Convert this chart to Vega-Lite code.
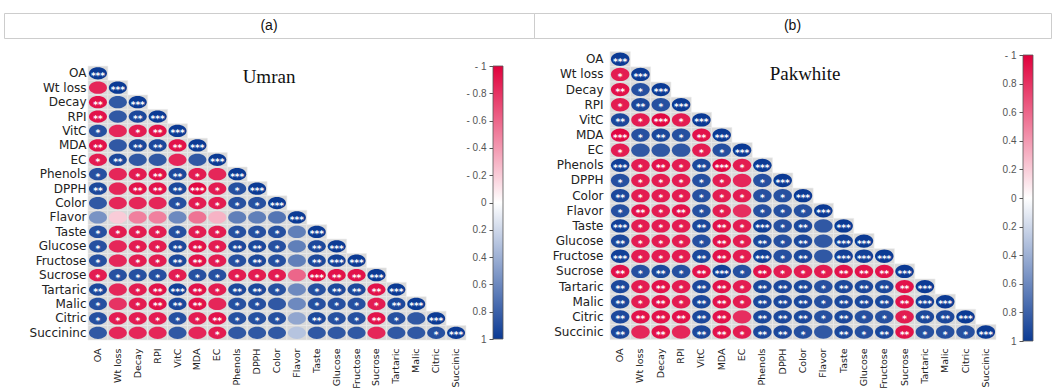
{
 "$schema": "https://vega.github.io/schema/vega-lite/v6.json",
 "padding": {"left": 3, "top": 12, "right": 0, "bottom": 0},
 "background": "white",
 "config": {"view": {"stroke": null}},
 "datasets": {
  "umran": [
   {"row":"OA","col":"OA","r":1,"sig":"***"},
   {"row":"Wt loss","col":"OA","r":-0.85,"sig":""},{"row":"Wt loss","col":"Wt loss","r":1,"sig":"***"},
   {"row":"Decay","col":"OA","r":-0.93,"sig":"**"},{"row":"Decay","col":"Wt loss","r":0.85,"sig":""},{"row":"Decay","col":"Decay","r":1,"sig":"***"},
   {"row":"RPI","col":"OA","r":-0.93,"sig":"**"},{"row":"RPI","col":"Wt loss","r":0.85,"sig":""},{"row":"RPI","col":"Decay","r":0.93,"sig":"**"},{"row":"RPI","col":"RPI","r":1,"sig":"***"},
   {"row":"VitC","col":"OA","r":0.89,"sig":"*"},{"row":"VitC","col":"Wt loss","r":-0.85,"sig":""},{"row":"VitC","col":"Decay","r":-0.89,"sig":"*"},{"row":"VitC","col":"RPI","r":-0.93,"sig":"**"},{"row":"VitC","col":"VitC","r":1,"sig":"***"},
   {"row":"MDA","col":"OA","r":-0.93,"sig":"**"},{"row":"MDA","col":"Wt loss","r":0.85,"sig":""},{"row":"MDA","col":"Decay","r":0.93,"sig":"**"},{"row":"MDA","col":"RPI","r":0.93,"sig":"**"},{"row":"MDA","col":"VitC","r":-0.93,"sig":"**"},{"row":"MDA","col":"MDA","r":1,"sig":"***"},
   {"row":"EC","col":"OA","r":-0.89,"sig":"*"},{"row":"EC","col":"Wt loss","r":0.93,"sig":"**"},{"row":"EC","col":"Decay","r":0.85,"sig":""},{"row":"EC","col":"RPI","r":0.85,"sig":""},{"row":"EC","col":"VitC","r":-0.85,"sig":""},{"row":"EC","col":"MDA","r":0.85,"sig":""},{"row":"EC","col":"EC","r":1,"sig":"***"},
   {"row":"Phenols","col":"OA","r":0.89,"sig":"*"},{"row":"Phenols","col":"Wt loss","r":-0.85,"sig":""},{"row":"Phenols","col":"Decay","r":-0.89,"sig":"*"},{"row":"Phenols","col":"RPI","r":-0.93,"sig":"**"},{"row":"Phenols","col":"VitC","r":0.93,"sig":"**"},{"row":"Phenols","col":"MDA","r":-0.89,"sig":"*"},{"row":"Phenols","col":"EC","r":-0.85,"sig":""},{"row":"Phenols","col":"Phenols","r":1,"sig":"***"},
   {"row":"DPPH","col":"OA","r":0.93,"sig":"**"},{"row":"DPPH","col":"Wt loss","r":-0.85,"sig":""},{"row":"DPPH","col":"Decay","r":-0.93,"sig":"**"},{"row":"DPPH","col":"RPI","r":-0.93,"sig":"**"},{"row":"DPPH","col":"VitC","r":0.93,"sig":"**"},{"row":"DPPH","col":"MDA","r":-0.97,"sig":"***"},{"row":"DPPH","col":"EC","r":-0.89,"sig":"*"},{"row":"DPPH","col":"Phenols","r":0.89,"sig":"*"},{"row":"DPPH","col":"DPPH","r":1,"sig":"***"},
   {"row":"Color","col":"OA","r":0.85,"sig":""},{"row":"Color","col":"Wt loss","r":-0.85,"sig":""},{"row":"Color","col":"Decay","r":-0.85,"sig":""},{"row":"Color","col":"RPI","r":-0.85,"sig":""},{"row":"Color","col":"VitC","r":0.89,"sig":"*"},{"row":"Color","col":"MDA","r":-0.89,"sig":"*"},{"row":"Color","col":"EC","r":-0.89,"sig":"*"},{"row":"Color","col":"Phenols","r":0.89,"sig":"*"},{"row":"Color","col":"DPPH","r":0.89,"sig":"*"},{"row":"Color","col":"Color","r":1,"sig":"***"},
   {"row":"Flavor","col":"OA","r":0.55,"sig":""},{"row":"Flavor","col":"Wt loss","r":-0.2,"sig":""},{"row":"Flavor","col":"Decay","r":-0.5,"sig":""},{"row":"Flavor","col":"RPI","r":-0.5,"sig":""},{"row":"Flavor","col":"VitC","r":0.6,"sig":""},{"row":"Flavor","col":"MDA","r":-0.55,"sig":""},{"row":"Flavor","col":"EC","r":-0.3,"sig":""},{"row":"Flavor","col":"Phenols","r":0.65,"sig":""},{"row":"Flavor","col":"DPPH","r":0.65,"sig":""},{"row":"Flavor","col":"Color","r":0.7,"sig":""},{"row":"Flavor","col":"Flavor","r":1,"sig":"***"},
   {"row":"Taste","col":"OA","r":0.89,"sig":"*"},{"row":"Taste","col":"Wt loss","r":-0.89,"sig":"*"},{"row":"Taste","col":"Decay","r":-0.89,"sig":"*"},{"row":"Taste","col":"RPI","r":-0.89,"sig":"*"},{"row":"Taste","col":"VitC","r":0.89,"sig":"*"},{"row":"Taste","col":"MDA","r":-0.89,"sig":"*"},{"row":"Taste","col":"EC","r":-0.89,"sig":"*"},{"row":"Taste","col":"Phenols","r":0.89,"sig":"*"},{"row":"Taste","col":"DPPH","r":0.89,"sig":"*"},{"row":"Taste","col":"Color","r":0.89,"sig":"*"},{"row":"Taste","col":"Flavor","r":0.65,"sig":""},{"row":"Taste","col":"Taste","r":1,"sig":"***"},
   {"row":"Glucose","col":"OA","r":0.89,"sig":"*"},{"row":"Glucose","col":"Wt loss","r":-0.85,"sig":""},{"row":"Glucose","col":"Decay","r":-0.89,"sig":"*"},{"row":"Glucose","col":"RPI","r":-0.89,"sig":"*"},{"row":"Glucose","col":"VitC","r":0.93,"sig":"**"},{"row":"Glucose","col":"MDA","r":-0.93,"sig":"**"},{"row":"Glucose","col":"EC","r":-0.89,"sig":"*"},{"row":"Glucose","col":"Phenols","r":0.93,"sig":"**"},{"row":"Glucose","col":"DPPH","r":0.93,"sig":"**"},{"row":"Glucose","col":"Color","r":0.89,"sig":"*"},{"row":"Glucose","col":"Flavor","r":0.65,"sig":""},{"row":"Glucose","col":"Taste","r":0.93,"sig":"**"},{"row":"Glucose","col":"Glucose","r":1,"sig":"***"},
   {"row":"Fructose","col":"OA","r":0.89,"sig":"*"},{"row":"Fructose","col":"Wt loss","r":-0.85,"sig":""},{"row":"Fructose","col":"Decay","r":-0.89,"sig":"*"},{"row":"Fructose","col":"RPI","r":-0.89,"sig":"*"},{"row":"Fructose","col":"VitC","r":0.93,"sig":"**"},{"row":"Fructose","col":"MDA","r":-0.93,"sig":"**"},{"row":"Fructose","col":"EC","r":-0.89,"sig":"*"},{"row":"Fructose","col":"Phenols","r":0.89,"sig":"*"},{"row":"Fructose","col":"DPPH","r":0.93,"sig":"**"},{"row":"Fructose","col":"Color","r":0.89,"sig":"*"},{"row":"Fructose","col":"Flavor","r":0.65,"sig":""},{"row":"Fructose","col":"Taste","r":0.93,"sig":"**"},{"row":"Fructose","col":"Glucose","r":0.97,"sig":"***"},{"row":"Fructose","col":"Fructose","r":1,"sig":"***"},
   {"row":"Sucrose","col":"OA","r":-0.89,"sig":"*"},{"row":"Sucrose","col":"Wt loss","r":0.89,"sig":"*"},{"row":"Sucrose","col":"Decay","r":0.89,"sig":"*"},{"row":"Sucrose","col":"RPI","r":0.89,"sig":"*"},{"row":"Sucrose","col":"VitC","r":-0.89,"sig":"*"},{"row":"Sucrose","col":"MDA","r":0.89,"sig":"*"},{"row":"Sucrose","col":"EC","r":0.89,"sig":"*"},{"row":"Sucrose","col":"Phenols","r":-0.89,"sig":"*"},{"row":"Sucrose","col":"DPPH","r":-0.89,"sig":"*"},{"row":"Sucrose","col":"Color","r":-0.89,"sig":"*"},{"row":"Sucrose","col":"Flavor","r":-0.6,"sig":""},{"row":"Sucrose","col":"Taste","r":-0.97,"sig":"***"},{"row":"Sucrose","col":"Glucose","r":-0.93,"sig":"**"},{"row":"Sucrose","col":"Fructose","r":-0.93,"sig":"**"},{"row":"Sucrose","col":"Sucrose","r":1,"sig":"***"},
   {"row":"Tartaric","col":"OA","r":0.93,"sig":"**"},{"row":"Tartaric","col":"Wt loss","r":-0.85,"sig":""},{"row":"Tartaric","col":"Decay","r":-0.89,"sig":"*"},{"row":"Tartaric","col":"RPI","r":-0.93,"sig":"**"},{"row":"Tartaric","col":"VitC","r":0.97,"sig":"***"},{"row":"Tartaric","col":"MDA","r":-0.93,"sig":"**"},{"row":"Tartaric","col":"EC","r":-0.89,"sig":"*"},{"row":"Tartaric","col":"Phenols","r":0.93,"sig":"**"},{"row":"Tartaric","col":"DPPH","r":0.93,"sig":"**"},{"row":"Tartaric","col":"Color","r":0.89,"sig":"*"},{"row":"Tartaric","col":"Flavor","r":0.6,"sig":""},{"row":"Tartaric","col":"Taste","r":0.89,"sig":"*"},{"row":"Tartaric","col":"Glucose","r":0.93,"sig":"**"},{"row":"Tartaric","col":"Fructose","r":0.93,"sig":"**"},{"row":"Tartaric","col":"Sucrose","r":-0.93,"sig":"**"},{"row":"Tartaric","col":"Tartaric","r":1,"sig":"***"},
   {"row":"Malic","col":"OA","r":0.89,"sig":"*"},{"row":"Malic","col":"Wt loss","r":-0.8,"sig":""},{"row":"Malic","col":"Decay","r":-0.89,"sig":"*"},{"row":"Malic","col":"RPI","r":-0.93,"sig":"**"},{"row":"Malic","col":"VitC","r":0.93,"sig":"**"},{"row":"Malic","col":"MDA","r":-0.93,"sig":"**"},{"row":"Malic","col":"EC","r":-0.85,"sig":""},{"row":"Malic","col":"Phenols","r":0.89,"sig":"*"},{"row":"Malic","col":"DPPH","r":0.89,"sig":"*"},{"row":"Malic","col":"Color","r":0.85,"sig":""},{"row":"Malic","col":"Flavor","r":0.6,"sig":""},{"row":"Malic","col":"Taste","r":0.89,"sig":"*"},{"row":"Malic","col":"Glucose","r":0.89,"sig":"*"},{"row":"Malic","col":"Fructose","r":0.89,"sig":"*"},{"row":"Malic","col":"Sucrose","r":-0.89,"sig":"*"},{"row":"Malic","col":"Tartaric","r":0.93,"sig":"**"},{"row":"Malic","col":"Malic","r":1,"sig":"***"},
   {"row":"Citric","col":"OA","r":0.89,"sig":"*"},{"row":"Citric","col":"Wt loss","r":-0.89,"sig":"*"},{"row":"Citric","col":"Decay","r":-0.89,"sig":"*"},{"row":"Citric","col":"RPI","r":-0.89,"sig":"*"},{"row":"Citric","col":"VitC","r":0.89,"sig":"*"},{"row":"Citric","col":"MDA","r":-0.89,"sig":"*"},{"row":"Citric","col":"EC","r":-0.93,"sig":"**"},{"row":"Citric","col":"Phenols","r":0.89,"sig":"*"},{"row":"Citric","col":"DPPH","r":0.89,"sig":"*"},{"row":"Citric","col":"Color","r":0.89,"sig":"*"},{"row":"Citric","col":"Flavor","r":0.45,"sig":""},{"row":"Citric","col":"Taste","r":0.93,"sig":"**"},{"row":"Citric","col":"Glucose","r":0.89,"sig":"*"},{"row":"Citric","col":"Fructose","r":0.89,"sig":"*"},{"row":"Citric","col":"Sucrose","r":-0.93,"sig":"**"},{"row":"Citric","col":"Tartaric","r":0.89,"sig":"*"},{"row":"Citric","col":"Malic","r":0.85,"sig":""},{"row":"Citric","col":"Citric","r":1,"sig":"***"},
   {"row":"Succininc","col":"OA","r":0.85,"sig":""},{"row":"Succininc","col":"Wt loss","r":-0.85,"sig":""},{"row":"Succininc","col":"Decay","r":-0.85,"sig":""},{"row":"Succininc","col":"RPI","r":-0.85,"sig":""},{"row":"Succininc","col":"VitC","r":0.85,"sig":""},{"row":"Succininc","col":"MDA","r":-0.85,"sig":""},{"row":"Succininc","col":"EC","r":-0.89,"sig":"*"},{"row":"Succininc","col":"Phenols","r":0.85,"sig":""},{"row":"Succininc","col":"DPPH","r":0.85,"sig":""},{"row":"Succininc","col":"Color","r":0.85,"sig":""},{"row":"Succininc","col":"Flavor","r":0.3,"sig":""},{"row":"Succininc","col":"Taste","r":0.85,"sig":""},{"row":"Succininc","col":"Glucose","r":0.85,"sig":""},{"row":"Succininc","col":"Fructose","r":0.85,"sig":""},{"row":"Succininc","col":"Sucrose","r":-0.85,"sig":""},{"row":"Succininc","col":"Tartaric","r":0.85,"sig":""},{"row":"Succininc","col":"Malic","r":0.85,"sig":""},{"row":"Succininc","col":"Citric","r":0.89,"sig":"*"},{"row":"Succininc","col":"Succinic","r":1,"sig":"***"}
  ],
  "pakwhite": [
   {"row":"OA","col":"OA","r":1,"sig":"***"},
   {"row":"Wt loss","col":"OA","r":-0.89,"sig":"*"},{"row":"Wt loss","col":"Wt loss","r":1,"sig":"***"},
   {"row":"Decay","col":"OA","r":-0.93,"sig":"**"},{"row":"Decay","col":"Wt loss","r":0.89,"sig":"*"},{"row":"Decay","col":"Decay","r":1,"sig":"***"},
   {"row":"RPI","col":"OA","r":-0.89,"sig":"*"},{"row":"RPI","col":"Wt loss","r":0.93,"sig":"**"},{"row":"RPI","col":"Decay","r":0.89,"sig":"*"},{"row":"RPI","col":"RPI","r":1,"sig":"***"},
   {"row":"VitC","col":"OA","r":0.93,"sig":"**"},{"row":"VitC","col":"Wt loss","r":-0.89,"sig":"*"},{"row":"VitC","col":"Decay","r":-0.97,"sig":"***"},{"row":"VitC","col":"RPI","r":-0.89,"sig":"*"},{"row":"VitC","col":"VitC","r":1,"sig":"***"},
   {"row":"MDA","col":"OA","r":-0.97,"sig":"***"},{"row":"MDA","col":"Wt loss","r":0.89,"sig":"*"},{"row":"MDA","col":"Decay","r":0.93,"sig":"**"},{"row":"MDA","col":"RPI","r":0.89,"sig":"*"},{"row":"MDA","col":"VitC","r":-0.93,"sig":"**"},{"row":"MDA","col":"MDA","r":1,"sig":"***"},
   {"row":"EC","col":"OA","r":-0.89,"sig":"*"},{"row":"EC","col":"Wt loss","r":0.85,"sig":""},{"row":"EC","col":"Decay","r":0.85,"sig":""},{"row":"EC","col":"RPI","r":0.85,"sig":""},{"row":"EC","col":"VitC","r":-0.89,"sig":"*"},{"row":"EC","col":"MDA","r":0.89,"sig":"*"},{"row":"EC","col":"EC","r":1,"sig":"***"},
   {"row":"Phenols","col":"OA","r":0.97,"sig":"***"},{"row":"Phenols","col":"Wt loss","r":-0.89,"sig":"*"},{"row":"Phenols","col":"Decay","r":-0.93,"sig":"**"},{"row":"Phenols","col":"RPI","r":-0.89,"sig":"*"},{"row":"Phenols","col":"VitC","r":0.93,"sig":"**"},{"row":"Phenols","col":"MDA","r":-0.97,"sig":"***"},{"row":"Phenols","col":"EC","r":-0.89,"sig":"*"},{"row":"Phenols","col":"Phenols","r":1,"sig":"***"},
   {"row":"DPPH","col":"OA","r":0.89,"sig":"*"},{"row":"DPPH","col":"Wt loss","r":-0.89,"sig":"*"},{"row":"DPPH","col":"Decay","r":-0.89,"sig":"*"},{"row":"DPPH","col":"RPI","r":-0.89,"sig":"*"},{"row":"DPPH","col":"VitC","r":0.89,"sig":"*"},{"row":"DPPH","col":"MDA","r":-0.89,"sig":"*"},{"row":"DPPH","col":"EC","r":-0.85,"sig":""},{"row":"DPPH","col":"Phenols","r":0.89,"sig":"*"},{"row":"DPPH","col":"DPPH","r":1,"sig":"***"},
   {"row":"Color","col":"OA","r":0.93,"sig":"**"},{"row":"Color","col":"Wt loss","r":-0.89,"sig":"*"},{"row":"Color","col":"Decay","r":-0.89,"sig":"*"},{"row":"Color","col":"RPI","r":-0.89,"sig":"*"},{"row":"Color","col":"VitC","r":0.89,"sig":"*"},{"row":"Color","col":"MDA","r":-0.89,"sig":"*"},{"row":"Color","col":"EC","r":-0.89,"sig":"*"},{"row":"Color","col":"Phenols","r":0.89,"sig":"*"},{"row":"Color","col":"DPPH","r":0.89,"sig":"*"},{"row":"Color","col":"Color","r":1,"sig":"***"},
   {"row":"Flavor","col":"OA","r":0.89,"sig":"*"},{"row":"Flavor","col":"Wt loss","r":-0.93,"sig":"**"},{"row":"Flavor","col":"Decay","r":-0.89,"sig":"*"},{"row":"Flavor","col":"RPI","r":-0.93,"sig":"**"},{"row":"Flavor","col":"VitC","r":0.89,"sig":"*"},{"row":"Flavor","col":"MDA","r":-0.89,"sig":"*"},{"row":"Flavor","col":"EC","r":-0.82,"sig":""},{"row":"Flavor","col":"Phenols","r":0.89,"sig":"*"},{"row":"Flavor","col":"DPPH","r":0.89,"sig":"*"},{"row":"Flavor","col":"Color","r":0.89,"sig":"*"},{"row":"Flavor","col":"Flavor","r":1,"sig":"***"},
   {"row":"Taste","col":"OA","r":0.97,"sig":"***"},{"row":"Taste","col":"Wt loss","r":-0.89,"sig":"*"},{"row":"Taste","col":"Decay","r":-0.89,"sig":"*"},{"row":"Taste","col":"RPI","r":-0.89,"sig":"*"},{"row":"Taste","col":"VitC","r":0.93,"sig":"**"},{"row":"Taste","col":"MDA","r":-0.93,"sig":"**"},{"row":"Taste","col":"EC","r":-0.89,"sig":"*"},{"row":"Taste","col":"Phenols","r":0.97,"sig":"***"},{"row":"Taste","col":"DPPH","r":0.89,"sig":"*"},{"row":"Taste","col":"Color","r":0.93,"sig":"**"},{"row":"Taste","col":"Flavor","r":0.85,"sig":""},{"row":"Taste","col":"Taste","r":1,"sig":"***"},
   {"row":"Glucose","col":"OA","r":0.93,"sig":"**"},{"row":"Glucose","col":"Wt loss","r":-0.89,"sig":"*"},{"row":"Glucose","col":"Decay","r":-0.89,"sig":"*"},{"row":"Glucose","col":"RPI","r":-0.89,"sig":"*"},{"row":"Glucose","col":"VitC","r":0.89,"sig":"*"},{"row":"Glucose","col":"MDA","r":-0.93,"sig":"**"},{"row":"Glucose","col":"EC","r":-0.89,"sig":"*"},{"row":"Glucose","col":"Phenols","r":0.93,"sig":"**"},{"row":"Glucose","col":"DPPH","r":0.89,"sig":"*"},{"row":"Glucose","col":"Color","r":0.93,"sig":"**"},{"row":"Glucose","col":"Flavor","r":0.85,"sig":""},{"row":"Glucose","col":"Taste","r":0.97,"sig":"***"},{"row":"Glucose","col":"Glucose","r":1,"sig":"***"},
   {"row":"Fructose","col":"OA","r":0.97,"sig":"***"},{"row":"Fructose","col":"Wt loss","r":-0.89,"sig":"*"},{"row":"Fructose","col":"Decay","r":-0.89,"sig":"*"},{"row":"Fructose","col":"RPI","r":-0.89,"sig":"*"},{"row":"Fructose","col":"VitC","r":0.93,"sig":"**"},{"row":"Fructose","col":"MDA","r":-0.93,"sig":"**"},{"row":"Fructose","col":"EC","r":-0.89,"sig":"*"},{"row":"Fructose","col":"Phenols","r":0.97,"sig":"***"},{"row":"Fructose","col":"DPPH","r":0.89,"sig":"*"},{"row":"Fructose","col":"Color","r":0.93,"sig":"**"},{"row":"Fructose","col":"Flavor","r":0.85,"sig":""},{"row":"Fructose","col":"Taste","r":0.97,"sig":"***"},{"row":"Fructose","col":"Glucose","r":0.97,"sig":"***"},{"row":"Fructose","col":"Fructose","r":1,"sig":"***"},
   {"row":"Sucrose","col":"OA","r":-0.93,"sig":"**"},{"row":"Sucrose","col":"Wt loss","r":0.89,"sig":"*"},{"row":"Sucrose","col":"Decay","r":0.93,"sig":"**"},{"row":"Sucrose","col":"RPI","r":0.89,"sig":"*"},{"row":"Sucrose","col":"VitC","r":-0.93,"sig":"**"},{"row":"Sucrose","col":"MDA","r":0.97,"sig":"***"},{"row":"Sucrose","col":"EC","r":0.89,"sig":"*"},{"row":"Sucrose","col":"Phenols","r":-0.93,"sig":"**"},{"row":"Sucrose","col":"DPPH","r":-0.89,"sig":"*"},{"row":"Sucrose","col":"Color","r":-0.89,"sig":"*"},{"row":"Sucrose","col":"Flavor","r":-0.89,"sig":"*"},{"row":"Sucrose","col":"Taste","r":-0.93,"sig":"**"},{"row":"Sucrose","col":"Glucose","r":-0.93,"sig":"**"},{"row":"Sucrose","col":"Fructose","r":-0.93,"sig":"**"},{"row":"Sucrose","col":"Sucrose","r":1,"sig":"***"},
   {"row":"Tartaric","col":"OA","r":0.93,"sig":"**"},{"row":"Tartaric","col":"Wt loss","r":-0.89,"sig":"*"},{"row":"Tartaric","col":"Decay","r":-0.93,"sig":"**"},{"row":"Tartaric","col":"RPI","r":-0.89,"sig":"*"},{"row":"Tartaric","col":"VitC","r":0.93,"sig":"**"},{"row":"Tartaric","col":"MDA","r":-0.93,"sig":"**"},{"row":"Tartaric","col":"EC","r":-0.89,"sig":"*"},{"row":"Tartaric","col":"Phenols","r":0.93,"sig":"**"},{"row":"Tartaric","col":"DPPH","r":0.93,"sig":"**"},{"row":"Tartaric","col":"Color","r":0.93,"sig":"**"},{"row":"Tartaric","col":"Flavor","r":0.89,"sig":"*"},{"row":"Tartaric","col":"Taste","r":0.93,"sig":"**"},{"row":"Tartaric","col":"Glucose","r":0.93,"sig":"**"},{"row":"Tartaric","col":"Fructose","r":0.93,"sig":"**"},{"row":"Tartaric","col":"Sucrose","r":-0.93,"sig":"**"},{"row":"Tartaric","col":"Tartaric","r":1,"sig":"***"},
   {"row":"Malic","col":"OA","r":0.93,"sig":"**"},{"row":"Malic","col":"Wt loss","r":-0.89,"sig":"*"},{"row":"Malic","col":"Decay","r":-0.93,"sig":"**"},{"row":"Malic","col":"RPI","r":-0.89,"sig":"*"},{"row":"Malic","col":"VitC","r":0.93,"sig":"**"},{"row":"Malic","col":"MDA","r":-0.93,"sig":"**"},{"row":"Malic","col":"EC","r":-0.89,"sig":"*"},{"row":"Malic","col":"Phenols","r":0.93,"sig":"**"},{"row":"Malic","col":"DPPH","r":0.93,"sig":"**"},{"row":"Malic","col":"Color","r":0.93,"sig":"**"},{"row":"Malic","col":"Flavor","r":0.89,"sig":"*"},{"row":"Malic","col":"Taste","r":0.93,"sig":"**"},{"row":"Malic","col":"Glucose","r":0.93,"sig":"**"},{"row":"Malic","col":"Fructose","r":0.93,"sig":"**"},{"row":"Malic","col":"Sucrose","r":-0.93,"sig":"**"},{"row":"Malic","col":"Tartaric","r":0.97,"sig":"***"},{"row":"Malic","col":"Malic","r":1,"sig":"***"},
   {"row":"Citric","col":"OA","r":0.93,"sig":"**"},{"row":"Citric","col":"Wt loss","r":-0.93,"sig":"**"},{"row":"Citric","col":"Decay","r":-0.93,"sig":"**"},{"row":"Citric","col":"RPI","r":-0.93,"sig":"**"},{"row":"Citric","col":"VitC","r":0.93,"sig":"**"},{"row":"Citric","col":"MDA","r":-0.93,"sig":"**"},{"row":"Citric","col":"EC","r":-0.82,"sig":""},{"row":"Citric","col":"Phenols","r":0.93,"sig":"**"},{"row":"Citric","col":"DPPH","r":0.93,"sig":"**"},{"row":"Citric","col":"Color","r":0.93,"sig":"**"},{"row":"Citric","col":"Flavor","r":0.89,"sig":"*"},{"row":"Citric","col":"Taste","r":0.93,"sig":"**"},{"row":"Citric","col":"Glucose","r":0.89,"sig":"*"},{"row":"Citric","col":"Fructose","r":0.89,"sig":"*"},{"row":"Citric","col":"Sucrose","r":-0.89,"sig":"*"},{"row":"Citric","col":"Tartaric","r":0.93,"sig":"**"},{"row":"Citric","col":"Malic","r":0.93,"sig":"**"},{"row":"Citric","col":"Citric","r":1,"sig":"***"},
   {"row":"Succinic","col":"OA","r":0.93,"sig":"**"},{"row":"Succinic","col":"Wt loss","r":-0.85,"sig":""},{"row":"Succinic","col":"Decay","r":-0.93,"sig":"**"},{"row":"Succinic","col":"RPI","r":-0.85,"sig":""},{"row":"Succinic","col":"VitC","r":0.93,"sig":"**"},{"row":"Succinic","col":"MDA","r":-0.93,"sig":"**"},{"row":"Succinic","col":"EC","r":-0.89,"sig":"*"},{"row":"Succinic","col":"Phenols","r":0.93,"sig":"**"},{"row":"Succinic","col":"DPPH","r":0.93,"sig":"**"},{"row":"Succinic","col":"Color","r":0.89,"sig":"*"},{"row":"Succinic","col":"Flavor","r":0.85,"sig":""},{"row":"Succinic","col":"Taste","r":0.93,"sig":"**"},{"row":"Succinic","col":"Glucose","r":0.89,"sig":"*"},{"row":"Succinic","col":"Fructose","r":0.93,"sig":"**"},{"row":"Succinic","col":"Sucrose","r":-0.93,"sig":"**"},{"row":"Succinic","col":"Tartaric","r":0.89,"sig":"*"},{"row":"Succinic","col":"Malic","r":0.89,"sig":"*"},{"row":"Succinic","col":"Citric","r":0.89,"sig":"*"},{"row":"Succinic","col":"Succinic","r":1,"sig":"***"}
  ],
  "bar": [{"lo": -1, "hi": 1}]
 },
 "bounds": "flush",
 "spacing": 38,
 "vconcat": [
  {
   "bounds": "flush",
   "spacing": 0,
   "hconcat": [
    {"width": 530, "height": 25, "data": {"values": [{"t": "(a)"}]}, "view": {"stroke": "#cdcdcd", "strokeWidth": 1},
     "mark": {"type": "text", "font": "Liberation Sans", "fontSize": 14, "color": "#111"},
     "encoding": {"text": {"field": "t", "type": "nominal"}}},
    {"width": 517, "height": 25, "data": {"values": [{"t": "(b)"}]}, "view": {"stroke": "#cdcdcd", "strokeWidth": 1},
     "mark": {"type": "text", "font": "Liberation Sans", "fontSize": 14, "color": "#111"},
     "encoding": {"text": {"field": "t", "type": "nominal"}}}
   ]
  },
  {
   "bounds": "flush",
   "spacing": 27,
   "hconcat": [
    {
     "width": 462, "height": 290,
     "data": {"name": "umran"},
     "title": {"text": "Umran", "font": "Liberation Serif", "fontSize": 19, "fontWeight": "normal", "color": "#111", "anchor": "middle", "frame": "group", "offset": -45, "baseline": "middle", "dx": 34},
     "encoding": {
      "x": {"field": "col", "type": "nominal",
       "scale": {"domain": ["OA","Wt loss","Decay","RPI","VitC","MDA","EC","Phenols","DPPH","Color","Flavor","Taste","Glucose","Fructose","Sucrose","Tartaric","Malic","Citric","Succinic"], "range": [84, 462], "paddingInner": 0, "paddingOuter": 0},
       "axis": {"title": null, "orient": "bottom", "labelAngle": -90, "ticks": false, "domain": false, "labelPadding": 7, "labelFont": "DejaVu Sans", "labelFontSize": 9.5, "labelColor": "#222"}},
      "y": {"field": "row", "type": "nominal",
       "scale": {"domain": ["OA","Wt loss","Decay","RPI","VitC","MDA","EC","Phenols","DPPH","Color","Flavor","Taste","Glucose","Fructose","Sucrose","Tartaric","Malic","Citric","Succininc"], "range": [15.1, 289], "paddingInner": 0, "paddingOuter": 0},
       "axis": {"title": null, "orient": "left", "offset": -84, "ticks": false, "domain": false, "labelPadding": 2, "labelFont": "DejaVu Sans", "labelFontSize": 12, "labelColor": "#222"}}
     },
     "layer": [
      {"mark": {"type": "rect", "fill": "#d9d9d9", "stroke": "#ededed", "strokeWidth": 0.6}},
      {"mark": {"type": "point", "shape": "M -1 0 A 1 0.68 0 1 1 1 0 A 1 0.68 0 1 1 -1 0 Z", "filled": true, "size": 324, "opacity": 1, "strokeWidth": 0},
       "encoding": {"color": {"field": "r", "type": "quantitative", "scale": {"domain": [-1, 0, 1], "range": ["#E0003C", "#FFFFFF", "#0B3A94"], "interpolate": "rgb"}, "legend": null}}},
      {"mark": {"type": "text", "color": "white", "fontSize": 9, "fontWeight": "bold", "font": "DejaVu Sans", "dy": 2.5},
       "encoding": {"text": {"field": "sig", "type": "nominal"}}}
     ]
    },
    {
     "width": 10, "height": 290,
     "data": {"name": "bar"},
     "mark": {"type": "rect", "stroke": "#555", "strokeWidth": 0.8,
      "fill": {"gradient": "linear", "x1": 0, "y1": 0, "x2": 0, "y2": 1, "stops": [{"offset": 0, "color": "#E0003C"}, {"offset": 0.5, "color": "#FFFFFF"}, {"offset": 1, "color": "#0B3A94"}]}},
     "encoding": {
      "y": {"field": "lo", "type": "quantitative", "scale": {"domain": [-1, 1], "range": [15, 288], "nice": false, "zero": false},
       "axis": {"title": null, "orient": "left", "values": [-1, -0.8, -0.6, -0.4, -0.2, 0, 0.2, 0.4, 0.6, 0.8, 1], "tickSize": 4, "tickColor": "#555", "domain": false, "grid": false, "labelPadding": 3, "labelFont": "Liberation Sans", "labelFontSize": 10, "labelColor": "#555",
        "labelExpr": "datum.value < 0 ? '- ' + format(abs(datum.value), '') : format(datum.value, '')"}},
      "y2": {"field": "hi"}
     }
    },
    {
     "width": 466, "height": 290,
     "data": {"name": "pakwhite"},
     "title": {"text": "Pakwhite", "font": "Liberation Serif", "fontSize": 19, "fontWeight": "normal", "color": "#111", "anchor": "middle", "frame": "group", "offset": -42, "baseline": "middle", "dx": 42},
     "encoding": {
      "x": {"field": "col", "type": "nominal",
       "scale": {"domain": ["OA","Wt loss","Decay","RPI","VitC","MDA","EC","Phenols","DPPH","Color","Flavor","Taste","Glucose","Fructose","Sucrose","Tartaric","Malic","Citric","Succinic"], "range": [80, 466], "paddingInner": 0, "paddingOuter": 0},
       "axis": {"title": null, "orient": "bottom", "labelAngle": -90, "ticks": false, "domain": false, "labelPadding": 7, "labelFont": "DejaVu Sans", "labelFontSize": 9.5, "labelColor": "#222"}},
      "y": {"field": "row", "type": "nominal",
       "scale": {"domain": ["OA","Wt loss","Decay","RPI","VitC","MDA","EC","Phenols","DPPH","Color","Flavor","Taste","Glucose","Fructose","Sucrose","Tartaric","Malic","Citric","Succinic"], "range": [0.7, 288.6], "paddingInner": 0, "paddingOuter": 0},
       "axis": {"title": null, "orient": "left", "offset": -80, "ticks": false, "domain": false, "labelPadding": 7, "labelFont": "DejaVu Sans", "labelFontSize": 12, "labelColor": "#222"}}
     },
     "layer": [
      {"mark": {"type": "rect", "fill": "#d9d9d9", "stroke": "#ededed", "strokeWidth": 0.6}},
      {"mark": {"type": "point", "shape": "M -1 0 A 1 0.72 0 1 1 1 0 A 1 0.72 0 1 1 -1 0 Z", "filled": true, "size": 342, "opacity": 1, "strokeWidth": 0},
       "encoding": {"color": {"field": "r", "type": "quantitative", "scale": {"domain": [-1, 0, 1], "range": ["#E0003C", "#FFFFFF", "#0B3A94"], "interpolate": "rgb"}, "legend": null}}},
      {"mark": {"type": "text", "color": "white", "fontSize": 9, "fontWeight": "bold", "font": "DejaVu Sans", "dy": 2.5},
       "encoding": {"text": {"field": "sig", "type": "nominal"}}}
     ]
    },
    {
     "width": 10, "height": 290,
     "data": {"name": "bar"},
     "mark": {"type": "rect", "stroke": "#555", "strokeWidth": 0.8,
      "fill": {"gradient": "linear", "x1": 0, "y1": 0, "x2": 0, "y2": 1, "stops": [{"offset": 0, "color": "#E0003C"}, {"offset": 0.5, "color": "#FFFFFF"}, {"offset": 1, "color": "#0B3A94"}]}},
     "encoding": {
      "y": {"field": "lo", "type": "quantitative", "scale": {"domain": [-1, 1], "range": [4, 290], "nice": false, "zero": false},
       "axis": {"title": null, "orient": "left", "values": [-1, -0.8, -0.6, -0.4, -0.2, 0, 0.2, 0.4, 0.6, 0.8, 1], "tickSize": 4, "tickColor": "#555", "domain": false, "grid": false, "labelPadding": 3, "labelFont": "Liberation Sans", "labelFontSize": 10, "labelColor": "#555",
        "labelExpr": "datum.value == -1 ? '- 1' : format(abs(datum.value), '')"}},
      "y2": {"field": "hi"}
     }
    }
   ]
  }
 ]
}
